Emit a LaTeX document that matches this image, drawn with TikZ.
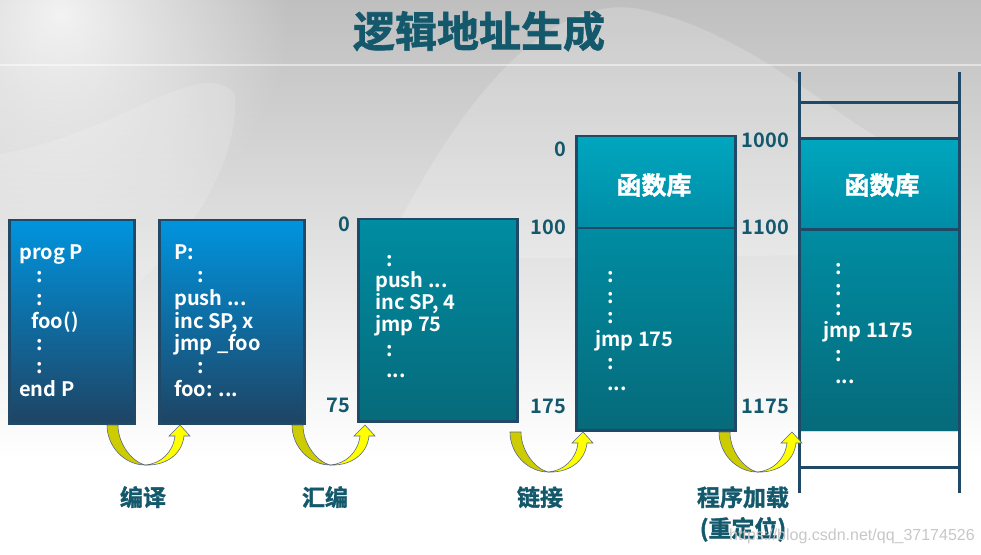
\documentclass[tikz,border=0pt]{standalone}
\usepackage{fontspec}
\setmainfont{Noto Sans CJK SC}[BoldFont=* Bold]
\newfontfamily\heavyfont{Noto Sans CJK SC Bold}[FakeBold=1.6]
\newfontfamily\markfont{Liberation Sans}
\usepackage{xcolor}
\definecolor{lineblue}{RGB}{31,73,103}
\definecolor{titleteal}{RGB}{20,88,108}
\definecolor{srctop}{RGB}{0,148,222}
\definecolor{srcmid}{RGB}{22,84,128}
\definecolor{srcbot}{RGB}{30,68,100}
\definecolor{objtop}{RGB}{0,140,162}
\definecolor{objbot}{RGB}{6,106,122}
\definecolor{libtop}{RGB}{0,166,190}
\definecolor{libbot}{RGB}{0,140,165}
\definecolor{tailyellow}{RGB}{204,204,0}
\definecolor{headyellow}{RGB}{255,255,0}
\definecolor{arrowedge}{RGB}{90,105,140}
\usepackage{tikz}
\usetikzlibrary{fadings}
\tikzfading[name=glow, inner color=transparent!0, outer color=transparent!100]
\newcommand{\etc}{...}

\begin{document}
\begin{tikzpicture}[x=1pt, y=1pt,
    membox/.style={draw=lineblue, line width=2.5pt, inner sep=0pt, anchor=north west},
    srcbox/.style={membox, top color=srctop, middle color=srcmid, bottom color=srcbot},
    objbox/.style={membox, top color=objtop, bottom color=objbot},
    libbox/.style={membox, top color=libtop, bottom color=libbot},
    code/.style={text=white, font=\bfseries\fontsize{20}{24}\selectfont, inner sep=0pt, anchor=base west},
    addr/.style={text=titleteal, font=\bfseries\fontsize{20}{24}\selectfont, inner sep=0pt, anchor=base east},
    stagename/.style={text=titleteal, font=\heavyfont\fontsize{23}{27}\selectfont, inner sep=0pt, anchor=base},
    rung/.style={draw=lineblue, line width=3pt}]
  \useasboundingbox (0,0) rectangle (981,554);

  % background
  \shade[top color=black!25, bottom color=white] (0,94) rectangle (981,554);
  \fill[white, opacity=0.8, path fading=glow] (60,540) circle (230);
  \fill[white, opacity=0.18] (380,294) .. controls (470,480) and (560,560) .. (640,545)
     .. controls (760,520) and (850,420) .. (905,404) -- (905,300) -- cycle;
  \fill[white, opacity=0.15] (0,400) .. controls (120,420) and (200,500) .. (235,460)
     .. controls (240,380) and (170,260) .. (0,180) -- cycle;
  \draw[white, line width=1.5pt, opacity=0.5] (0,489) -- (981,489);

  \node[font=\heavyfont\fontsize{42}{46}\selectfont, text=titleteal, inner sep=0pt, anchor=base] (title) at (479,507) {逻辑地址生成};

  % source program
  \node[srcbox, minimum width=125, minimum height=203] (prog) at (8,335) {};
  \foreach \dx/\t [count=\i from 0] in {0/prog P, 17/:, 17/:, 12/foo(), 17/:, 17/:, 0/end P}
    \node[code] (prog\i) at (19+\dx, 294-22.7*\i) {\t};

  % compiled
  \node[srcbox, minimum width=145, minimum height=203] (asm) at (158,335) {};
  \foreach \dx/\t [count=\i from 0] in {0/P:, 23/:, 0/push \etc, 0/{inc SP, x}, 0/jmp \_foo, 23/:, 0/foo: \etc}
    \node[code] (asm\i) at (174+\dx, 294-22.7*\i) {\t};

  % object module
  \node[objbox, minimum width=159, minimum height=202] (obj) at (357,336) {};
  \foreach \dx/\y/\t [count=\i from 0] in {11/267/:, 0/288/push \etc, 0/310/{inc SP, 4}, 0/332/jmp 75, 11/357/:, 11/378/\etc}
    \node[code] (obj\i) at (375+\dx, 554-\y) {\t};
  \node[addr] (obja) at (350,322) {0};
  \node[addr] (objb) at (350,142) {75};

  % linked module
  \node[libbox, minimum width=159, minimum height=94] (lib) at (575,419) {};
  \node[objbox, minimum width=159, minimum height=202] (load) at (575,327) {};
  \node[font=\heavyfont\fontsize{25}{28}\selectfont, text=white] (libname) at (654,369) {函数库};
  \foreach \dx/\y/\t [count=\i from 0] in {12/283/:, 12/304/:, 12/324/:, 0/347/jmp 175, 12/370/:, 12/391/\etc}
    \node[code] (load\i) at (595+\dx, 554-\y) {\t};
  \node[addr] (loada) at (566,397) {0};
  \node[addr] (loadb) at (566,319) {100};
  \node[addr] (loadc) at (566,141) {175};

  % memory
  \node[inner sep=0pt, anchor=north west, minimum width=158, minimum height=91, top color=libtop, bottom color=libbot] (mlib) at (800,415) {};
  \node[inner sep=0pt, anchor=north west, minimum width=158, minimum height=201, top color=objtop, bottom color=objbot] (mprog) at (800,324) {};
  \node[font=\heavyfont\fontsize{25}{28}\selectfont, text=white] (mlibname) at (882,369) {函数库};
  \foreach \dx/\y/\t [count=\i from 0] in {12/275/:, 12/296/:, 12/316/:, 0/338/jmp 1175, 12/362/:, 12/384/\etc}
    \node[code] (mem\i) at (823+\dx, 554-\y) {\t};
  \draw[white!75!objtop, line width=1pt] (mprog.south west) -- (mprog.south east);
  \draw[rung] (mlib.north west) -- (mlib.north east);
  \draw[rung] (mprog.north west) -- (mprog.north east);
  \draw[rung] (799,451) -- (959,451);
  \draw[rung] (799,87) -- (959,87);
  \draw[rung] (799,482) -- (799,61);
  \draw[rung] (959,482) -- (959,61);
  \node[addr] (mema) at (789,406) {1000};
  \node[addr] (memb) at (789,319) {1100};
  \node[addr] (memc) at (789,141) {1175};

  % stage arrows
  \foreach \bx/\by in {145/89, 330/89, 548/82, 757/82}{
    \begin{scope}[shift={(\bx,\by)}]
      \filldraw[fill=tailyellow, draw=arrowedge, line width=0.6pt] (-38,40) .. controls (-38,18) and (-20,0) .. (0,0)
         .. controls (-12,3) and (-27,20) .. (-27,40) -- cycle;
      \filldraw[fill=headyellow, draw=arrowedge, line width=0.6pt] (0,0) .. controls (15,1) and (28,12) .. (30,29)
         -- (24,29) -- (35,40) -- (45,29) -- (39,29) .. controls (37,10) and (20,-1) .. (0,0) -- cycle;
    \end{scope}
  }

  \node[stagename] (compile) at (143,48) {编译};
  \node[stagename] (assemble) at (325,48) {汇编};
  \node[stagename] (link) at (540,48) {链接};
  \node[stagename] (loadstep) at (743,48) {程序加载};
  \node[stagename] (reloc) at (743,17) {(重定位)};

  \node[font=\markfont\fontsize{16}{16}\selectfont, text=black!22, inner sep=0pt, anchor=base west] (mark) at (729,14) {https://blog.csdn.net/qq\_37174526};
\end{tikzpicture}
\end{document}
